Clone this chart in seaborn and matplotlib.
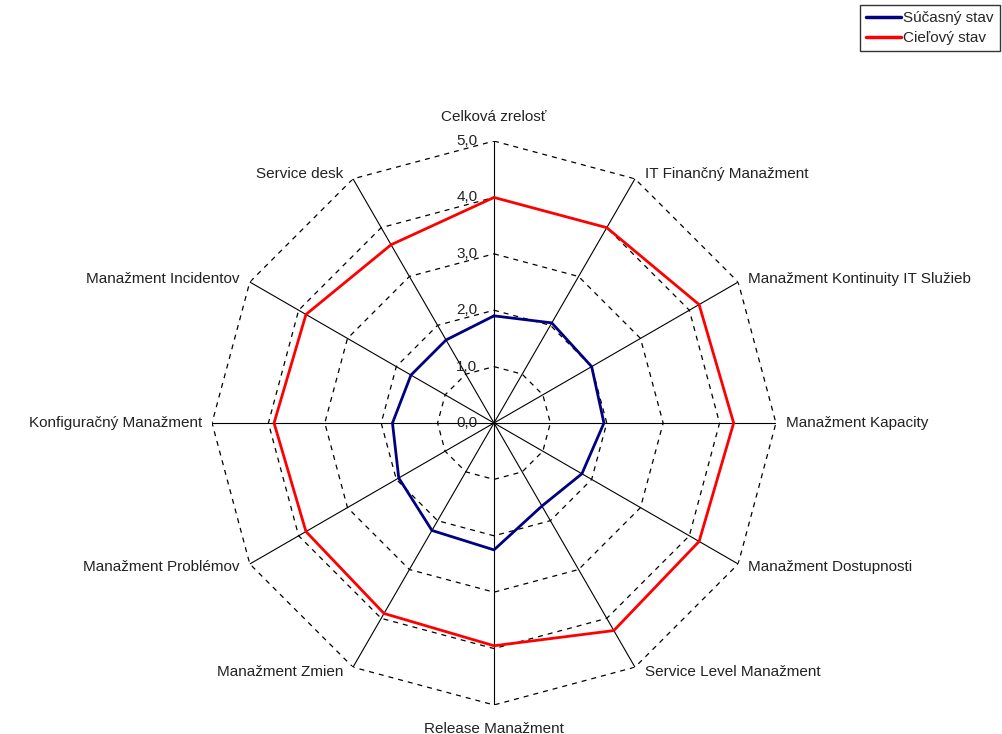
import numpy as np
import pandas as pd
import matplotlib
matplotlib.use('Agg')
import matplotlib.pyplot as plt
import seaborn as sns

# Categories in clockwise order, starting at the top
categories = [
    'Celková zrelosť',
    'IT Finančný Manažment',
    'Manažment Kontinuity IT Služieb',
    'Manažment Kapacity',
    'Manažment Dostupnosti',
    'Service Level Manažment',
    'Release Manažment',
    'Manažment Zmien',
    'Manažment Problémov',
    'Konfiguračný Manažment',
    'Manažment Incidentov',
    'Service desk',
]
current_state = [1.9, 2.05, 2.0, 1.95, 1.8, 1.7, 2.25, 2.2, 1.95, 1.8, 1.7, 1.7]
target_state = [4.0, 4.0, 4.2, 4.25, 4.2, 4.25, 3.95, 3.9, 3.85, 3.9, 3.85, 3.65]
series_names = ['Súčasný stav', 'Cieľový stav']
series_colors = ['#000080', '#FF0000']
ring_levels = [1, 2, 3, 4, 5]
tick_levels = [0, 1, 2, 3, 4, 5]

sns.set_theme(style='white')
plt.rcParams['font.family'] = ['Liberation Sans', 'DejaVu Sans']

n = len(categories)
angles = np.arange(n) * 2 * np.pi / n

# long table, each polygon closed by repeating its first point
rows = []
for name, vals in zip(series_names, [current_state, target_state]):
    for i in range(n + 1):
        k = i % n
        rows.append({'series': name, 'theta': angles[k] if i < n else 2 * np.pi,
                     'value': vals[k], 'order': i})
df = pd.DataFrame(rows)

fig = plt.figure(figsize=(10.02, 7.34), dpi=100)
ax = fig.add_axes([0.2116, 0.0395, 0.5628, 0.7684], projection='polar')
ax.set_theta_zero_location('N')
ax.set_theta_direction(-1)
ax.grid(False)
ax.spines['polar'].set_visible(False)
ax.set_xticks([])
ax.set_yticks([])
ax.patch.set_alpha(0)

# dashed polygon rings
ring_theta = np.append(angles, angles[0])
for r in ring_levels:
    ax.plot(ring_theta, [r] * (n + 1), color='black', lw=0.9,
            ls=(0, (4, 4)), zorder=1)

# spokes
for t in angles:
    ax.plot([t, t], [0, 5], color='black', lw=0.8, zorder=1)

sns.lineplot(data=df, x='theta', y='value', hue='series', palette=series_colors,
             hue_order=series_names, sort=False, estimator=None, units='series',
             linewidth=2.0, ax=ax, zorder=3)
ax.set_ylim(0, 5)
ax.set_xlabel('')
ax.set_ylabel('')

# category labels
px = 0.72
for t, lab in zip(angles, categories):
    s, c = np.sin(t), np.cos(t)
    if abs(s) < 1e-6:
        ha = 'center'
        off = (0, 24 * px * np.sign(c))
    else:
        ha = 'left' if s > 0 else 'right'
        off = (10 * px * np.sign(s), 6 * px * c)
    ax.annotate(lab, xy=(t, 5), xytext=off, textcoords='offset points',
                ha=ha, va='center', fontsize=11, color='#222222')

# radial tick labels
for r in tick_levels:
    ax.annotate(f'{r},0', xy=(0, r), xytext=(-12, 0), textcoords='offset points',
                ha='right', va='center', fontsize=11, color='#222222')

handles, labels = ax.get_legend_handles_labels()
ax.get_legend().remove()
leg = fig.legend(handles, labels, loc='upper right',
                 bbox_to_anchor=(1000 / 1002, 1 - 5 / 734), fontsize=11,
                 frameon=True, fancybox=False, edgecolor='black',
                 handlelength=2.3, handletextpad=0.15, borderpad=0.4,
                 labelspacing=0.4, borderaxespad=0)
leg.get_frame().set_linewidth(1.0)
for line in leg.get_lines():
    line.set_linewidth(2.5)

fig.savefig('out.png', dpi=100, facecolor='white')
